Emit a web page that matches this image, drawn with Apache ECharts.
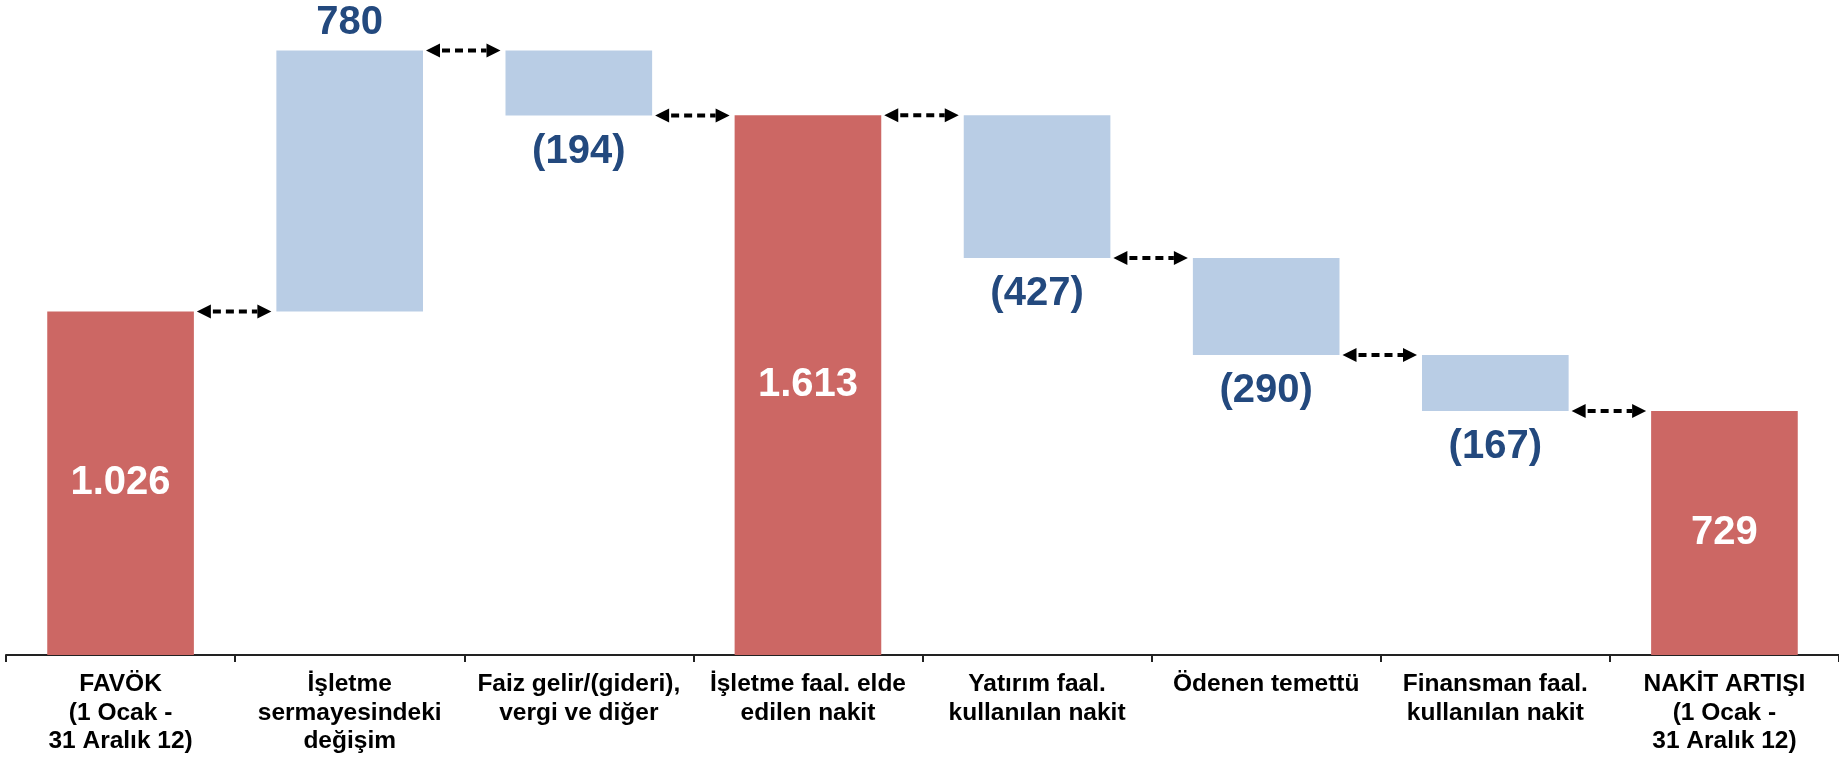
<!DOCTYPE html>
<html>
<head>
<meta charset="utf-8">
<script src="https://cdn.jsdelivr.net/npm/echarts@6/dist/echarts.min.js"></script>
<style>
html,body{margin:0;padding:0;background:#fff;}
#chart{width:1839px;height:761px;}
</style>
</head>
<body>
<div id="chart"></div>
<script>
// ---- data ----
const categories = [
  'FAVÖK\n(1 Ocak -\n31 Aralık 12)',
  'İşletme\nsermayesindeki\ndeğişim',
  'Faiz gelir/(gideri),\nvergi ve diğer',
  'İşletme faal. elde\nedilen nakit',
  'Yatırım faal.\nkullanılan nakit',
  'Ödenen temettü',
  'Finansman faal.\nkullanılan nakit',
  'NAKİT ARTIŞI\n(1 Ocak -\n31 Aralık 12)'
];
const values = [1026, 780, -194, 1613, -427, -290, -167, 729];
const kinds = ['total', 'delta', 'delta', 'total', 'delta', 'delta', 'delta', 'total'];
const valueLabels = ['1.026', '780', '(194)', '1.613', '(427)', '(290)', '(167)', '729'];

// ---- derived waterfall pieces ----
const RED = '#CC6764', BLUE = '#B9CDE5', LABEL_BLUE = '#23497E';
const FONT = '"Liberation Sans", Arial, sans-serif';
const base = [], heights = [], levels = [];
let running = 0;
values.forEach((v, i) => {
  if (kinds[i] === 'total') { base.push(0); heights.push(v); running = v; }
  else if (v >= 0) { base.push(running); heights.push(v); running += v; }
  else { base.push(running + v); heights.push(-v); running += v; }
  levels.push(running);
});

const visibleData = heights.map((h, i) => {
  const isTotal = kinds[i] === 'total';
  const pos = isTotal ? 'inside' : (values[i] >= 0 ? 'top' : 'bottom');
  return {
    value: h,
    itemStyle: { color: isTotal ? RED : BLUE },
    label: {
      show: true,
      position: pos,
      distance: isTotal ? 0 : (pos === 'top' ? 8 : 16),
      formatter: valueLabels[i],
      color: isTotal ? '#ffffff' : LABEL_BLUE,
      fontSize: 40,
      fontWeight: 'bold',
      fontFamily: FONT
    }
  };
});

const arrowData = [];
for (let i = 0; i < values.length - 1; i++) arrowData.push([i, levels[i]]);

const chart = echarts.init(document.getElementById('chart'), null, { renderer: 'canvas' });
chart.setOption({
  animation: false,
  backgroundColor: '#ffffff',
  grid: { left: 6, right: 0, top: 0, bottom: 106, containLabel: false },
  xAxis: {
    type: 'category',
    data: categories,
    axisLine: { show: true, lineStyle: { color: '#222', width: 2 } },
    axisTick: { show: true, length: 7, lineStyle: { color: '#222', width: 2 } },
    axisLabel: {
      interval: 0,
      margin: 15,
      color: '#000',
      fontSize: 24.5,
      fontWeight: 'bold',
      fontFamily: FONT,
      lineHeight: 28.5
    }
  },
  yAxis: { type: 'value', min: 0, max: 1957, show: false, splitLine: { show: false } },
  series: [
    {
      type: 'bar', stack: 'wf', barWidth: '64%', silent: true,
      itemStyle: { color: 'transparent' },
      data: base
    },
    {
      type: 'bar', stack: 'wf', barWidth: '64%', silent: true,
      data: visibleData
    },
    {
      type: 'custom', silent: true, z: 5,
      data: arrowData,
      encode: { x: 0, y: 1 },
      renderItem: function (params, api) {
        const i = api.value(0);
        const lvl = api.value(1);
        const p = api.coord([i, lvl]);
        const bw = api.size([1, 0])[0];
        const barW = bw * 0.64;
        const x1 = p[0] + barW / 2 + 3;
        const x2 = p[0] + bw - barW / 2 - 5;
        const y = p[1];
        const ah = 14, aw = 7;
        return {
          type: 'group',
          children: [
            { type: 'line', shape: { x1: x1 + ah + 2, y1: y, x2: x2 - ah, y2: y },
              style: { stroke: '#000', lineWidth: 4, lineDash: [8, 5] } },
            { type: 'polygon', shape: { points: [[x1, y], [x1 + ah, y - aw], [x1 + ah, y + aw]] },
              style: { fill: '#000' } },
            { type: 'polygon', shape: { points: [[x2, y], [x2 - ah, y - aw], [x2 - ah, y + aw]] },
              style: { fill: '#000' } }
          ]
        };
      }
    }
  ]
});
</script>
</body>
</html>
